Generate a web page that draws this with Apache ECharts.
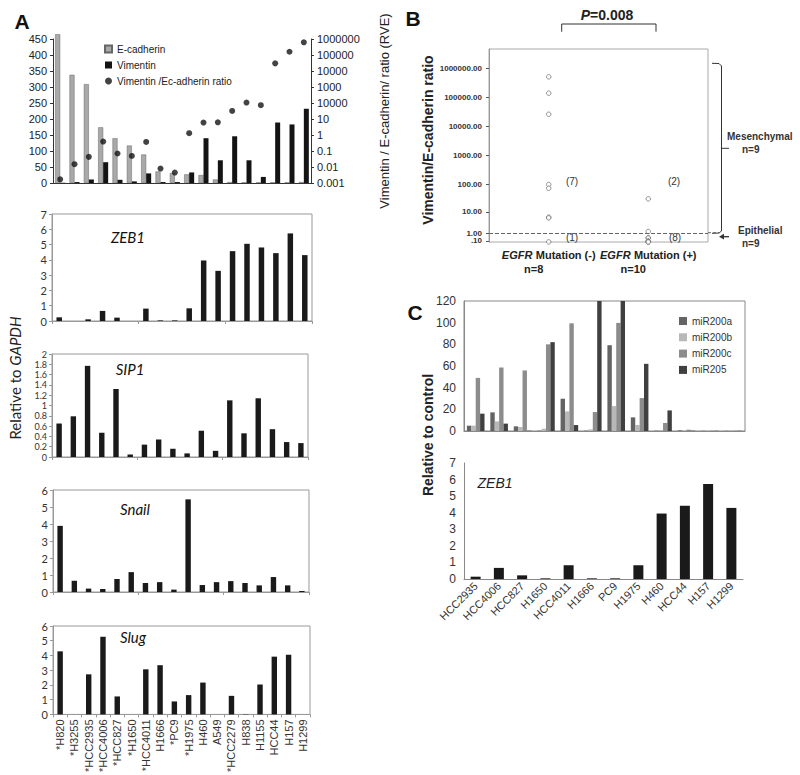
<!DOCTYPE html>
<html><head><meta charset="utf-8">
<script src="https://cdn.jsdelivr.net/npm/echarts@6/dist/echarts.min.js"></script>
<style>html,body{margin:0;padding:0;background:#fff}#c{width:800px;height:775px}</style>
</head><body><div id="c"></div>
<script>
// ---------- DATA ----------
const cellLinesA = ['*H820','*H3255','*HCC2935','*HCC4006','*HCC827','*H1650','*HCC4011','H1666','*PC9','*H1975','H460','A549','*HCC2279','H838','H1155','HCC44','H157','H1299'];
const ecadherin = [465,338,309,174,140,117,89,36,31,27,25,11,3,2,2,2,2,3];
const vimentin  = [1,3,11,65,10,5,30,3,3,33,140,71,146,71,19,189,183,232];
const ratioRVE  = [0.0017,0.015,0.043,0.39,0.07,0.049,0.37,0.008,0.0045,1.3,6,6.2,32,107,73,30000,160000,620000];
const rveTicks  = ['0.001','0.01','0.1','1','10','10000','1000','10000','100000','1000000'];
const zeb1A = [0.24,0,0.11,0.66,0.22,0,0.81,0.04,0.04,0.83,3.96,3.28,4.57,5.05,4.81,4.44,5.73,4.31];
const sip1A = [0.65,0.79,1.77,0.47,1.32,0.05,0.24,0.34,0.16,0.07,0.51,0.12,1.10,0.46,1.14,0.54,0.29,0.27];
const snailA = [3.89,0.66,0.20,0.18,0.76,1.17,0.53,0.58,0.14,5.45,0.41,0.58,0.64,0.53,0.39,0.88,0.39,0.06];
const slugA = [4.28,0,2.72,5.27,1.22,0,3.06,3.34,0.88,1.31,2.16,0,1.26,0.02,2.03,3.92,4.05,0];

const egfrNeg = [510000,139000,26000,96,71,6.2,5.8,0.008];
const egfrPos = [30,1.3,0.39,0.37,0.07,0.049,0.043,0.015,0.0045,0.0017];
const bTickValues = [0.1,1,10,100,1000,10000,100000,1000000];
const bTicks = ['.10','1.00','10.00','100.00','1000.00','10000.00','100000.00','1000000.00'];
const bGroups = ['Mutation (-)','Mutation (+)'];
const bGroupN = ['n=8','n=10'];

const cellLinesC = ['HCC2935','HCC4006','HCC827','H1650','HCC4011','H1666','PC9','H1975','H460','HCC44','H157','H1299'];
const miR200a = [4.9,17.2,4.3,0.3,29.8,0.3,79.2,12.6,0.3,0.6,0.2,0.2];
const miR200b = [4.9,8.9,3.7,2.1,18.1,1.5,23,5.5,0.9,0.4,0.2,0.2];
const miR200c = [49,58.6,55.9,80,99.4,17.5,99.8,30.4,7.4,1.2,0.3,0.3];
const miR205  = [16,6.8,0.3,82,5.5,150,150,62,19,0.3,0.2,0.2];
const zeb1C = [0.14,0.67,0.22,0.04,0.83,0.04,0.04,0.83,3.95,4.42,5.73,4.29];

// ---------- CHART ----------
const AR = '"Liberation Sans", Arial, sans-serif';
const LA = 'Lato, sans-serif';
const tf = v => Math.log10(v + 1);
const chart = echarts.init(document.getElementById('c'), null, {renderer:'svg', width:800, height:775});

const showAll = {showMinLabel:true, showMaxLabel:true, hideOverlap:false};
const lowerY = (g, max, interval, fs) => ({
  gridIndex:g, type:'value', min:0, max:max, interval:interval,
  axisLine:{show:true, lineStyle:{color:'#999'}}, axisTick:{show:true, length:3, lineStyle:{color:'#999'}},
  splitLine:{show:false}, axisLabel:Object.assign({fontSize:fs || 11, lineHeight:fs ? fs : 12, fontFamily:LA, color:'#333', margin:5}, showAll)
});
const lowerBar = (name, g, data) => ({
  name:name, type:'bar', xAxisIndex:g, yAxisIndex:g + 1, data:data, barWidth:'38%',
  itemStyle:{color:'#1a1a1a'}
});
const bLabelFmt = v => { const i = bTickValues.findIndex(b => Math.abs(tf(b) - v) < 1e-6); return i >= 0 ? bTicks[i] : ''; };
const bUpper = bTickValues.filter((_, i) => i > 0).map(tf);
const bLower = bTickValues.filter((_, i) => i === 0).map(tf);

function txt(x, y, text, o) {
  o = o || {};
  return {type:'text', x:x, y:y, rotation:o.rot || 0, silent:true,
    style:Object.assign({text:text, fill:o.color || '#222', font:o.font || ('12px ' + AR),
      align:o.align || 'center', verticalAlign:'middle'}, o.rich ? {rich:o.rich} : {})};
}
function line(points, o) {
  o = o || {};
  const st = {stroke:o.color || '#333', lineWidth:o.w || 1, fill:null};
  if (o.dash) st.lineDash = o.dash;
  return {type:'polyline', silent:true, shape:{points:points}, style:st};
}

const option = {
  animation:false,
  backgroundColor:'#fff',
  grid:[
    {left:53, top:39, width:258, height:144},
    {left:52, top:214, width:260, height:107, show:true, borderColor:'#999', borderWidth:1},
    {left:52, top:354, width:256, height:103, show:true, borderColor:'#999', borderWidth:1},
    {left:53, top:490, width:256, height:102, show:true, borderColor:'#999', borderWidth:1},
    {left:53, top:626, width:257, height:93, show:true, borderColor:'#999', borderWidth:1},
    {left:489, top:49, width:219, height:193, show:true, borderColor:'#aaa', borderWidth:1},
    {left:464, top:301, width:281, height:130, show:true, borderColor:'#888', borderWidth:1},
    {left:464, top:463, width:279, height:116}
  ],
  legend:[
    {orient:'vertical', left:104, top:43, padding:0, itemWidth:7, itemHeight:7, itemGap:4,
     textStyle:{fontSize:10, fontFamily:AR, color:'#222', lineHeight:12},
     data:[{name:'E-cadherin', icon:'rect'},{name:'Vimentin', icon:'rect'},{name:'Vimentin /Ec-adherin ratio', icon:'circle'}]},
    {orient:'vertical', left:679, top:315, padding:0, itemWidth:8, itemHeight:8, itemGap:4.3,
     textStyle:{fontSize:10, fontFamily:AR, color:'#333', lineHeight:12},
     data:[{name:'miR200a', icon:'rect'},{name:'miR200b', icon:'rect'},{name:'miR200c', icon:'rect'},{name:'miR205', icon:'rect'}]}
  ],
  xAxis:[
    {gridIndex:0, type:'category', data:cellLinesA, axisLabel:{show:false},
     axisTick:{length:3, lineStyle:{color:'#333'}}, axisLine:{lineStyle:{color:'#333'}}},
    ...[1,2,3,4].map(g => ({gridIndex:g, type:'category', data:cellLinesA,
      axisLine:{lineStyle:{color:'#999'}}, axisTick:{show:true, length:3, lineStyle:{color:'#999'}},
      axisLabel: g === 4 ? Object.assign({rotate:90, interval:0, fontSize:11, fontFamily:AR, color:'#333', margin:5}, showAll) : {show:false}})),
    {gridIndex:5, type:'value', min:0.4, max:2.6, axisLine:{show:false}, axisTick:{show:false}, splitLine:{show:false},
     axisLabel:Object.assign({customValues:[1,2], margin:6, lineHeight:13,
       formatter: v => { const i = Math.round(v) - 1; return '{i|EGFR} {b|' + bGroups[i] + '}\n{n|' + bGroupN[i] + '}'; },
       rich:{
         i:{fontStyle:'italic', fontWeight:'bold', fontSize:11, fontFamily:AR, color:'#222'},
         b:{fontWeight:'bold', fontSize:11, fontFamily:AR, color:'#222'},
         n:{fontWeight:'bold', fontSize:11, fontFamily:AR, color:'#222', padding:[2,30,0,0]}
       }}, showAll)},
    {gridIndex:6, type:'category', data:cellLinesC, axisLabel:{show:false}, axisTick:{show:false}, axisLine:{lineStyle:{color:'#888'}}},
    {gridIndex:7, type:'category', data:cellLinesC, axisLine:{lineStyle:{color:'#888'}},
     axisTick:{length:4, lineStyle:{color:'#888'}},
     axisLabel:Object.assign({rotate:45, interval:0, fontSize:11, fontFamily:AR, color:'#333', margin:5}, showAll)}
  ],
  yAxis:[
    {gridIndex:0, type:'value', min:0, max:450, interval:50, splitLine:{show:false},
     axisLine:{show:true, lineStyle:{color:'#333'}}, axisTick:{show:true, length:3},
     axisLabel:Object.assign({fontSize:11, lineHeight:12, fontFamily:AR, color:'#222', margin:6}, showAll)},
    {gridIndex:0, type:'log', logBase:10, min:0.001, max:1000000, splitNumber:9, position:'right', splitLine:{show:false},
     minorTick:{show:false}, axisLine:{show:true, lineStyle:{color:'#333'}}, axisTick:{show:true, length:3},
     axisLabel:Object.assign({fontSize:11, lineHeight:12, fontFamily:AR, color:'#222', margin:6,
       formatter: v => rveTicks[Math.round(Math.log10(v)) + 3]}, showAll)},
    lowerY(1, 7, 1),
    lowerY(2, 2, 0.2, 9),
    lowerY(3, 6, 1),
    lowerY(4, 6, 1),
    {gridIndex:5, type:'value', min:0, max:6.67, position:'left', offset:0, splitLine:{show:false},
     axisLine:{show:true, lineStyle:{color:'#999'}},
     axisTick:{show:true, length:3, customValues:bUpper, lineStyle:{color:'#555'}},
     axisLabel:Object.assign({customValues:bUpper, fontSize:8, lineHeight:8, fontWeight:'bold', fontFamily:AR, color:'#333', margin:7,
       formatter:bLabelFmt}, showAll)},
    {gridIndex:6, type:'value', min:0, max:120, interval:20, splitLine:{show:false},
     axisLine:{show:true, lineStyle:{color:'#888'}}, axisTick:{show:false},
     axisLabel:Object.assign({fontSize:12, fontFamily:AR, color:'#333', margin:8}, showAll)},
    {gridIndex:7, type:'value', min:0, max:7, interval:1, splitLine:{show:false},
     axisLine:{show:true, lineStyle:{color:'#888'}}, axisTick:{show:false},
     axisLabel:Object.assign({fontSize:12, fontFamily:AR, color:'#333', margin:8}, showAll)},
    {gridIndex:5, type:'value', min:0, max:6.67, position:'left', offset:0, splitLine:{show:false},
     axisLine:{show:false},
     axisTick:{show:true, length:3, customValues:bLower, lineStyle:{color:'#555'}},
     axisLabel:Object.assign({customValues:bLower, fontSize:8, lineHeight:8, fontWeight:'bold', fontFamily:AR, color:'#333', margin:7,
       formatter:bLabelFmt}, showAll)}
  ],
  series:[
    {name:'E-cadherin', type:'bar', xAxisIndex:0, yAxisIndex:0, data:ecadherin, barWidth:5, barGap:'0%', clip:false,
     itemStyle:{color:'#a9a9a9', borderColor:'#666', borderWidth:0.5}},
    {name:'Vimentin', type:'bar', xAxisIndex:0, yAxisIndex:0, data:vimentin, barWidth:5, barGap:'0%',
     itemStyle:{color:'#141414'}},
    {name:'Vimentin /Ec-adherin ratio', type:'scatter', xAxisIndex:0, yAxisIndex:1, data:ratioRVE, symbol:'circle', symbolSize:6,
     itemStyle:{color:'#141414'}},
    lowerBar('ZEB1 A', 1, zeb1A),
    lowerBar('SIP1 A', 2, sip1A),
    lowerBar('Snail A', 3, snailA),
    lowerBar('Slug A', 4, slugA),
    {name:'EGFR Mutation (-)', type:'scatter', xAxisIndex:5, yAxisIndex:6, data:egfrNeg.map(v => [1, tf(v)]), clip:false,
     symbol:'circle', symbolSize:4.5, itemStyle:{color:'#fff', borderColor:'#777', borderWidth:1},
     markLine:{silent:true, symbol:'none', label:{show:false}, data:[{yAxis:tf(1)}],
       lineStyle:{type:'dashed', color:'#666', width:1}}},
    {name:'EGFR Mutation (+)', type:'scatter', xAxisIndex:5, yAxisIndex:6, data:egfrPos.map(v => [2, tf(v)]), clip:false,
     symbol:'circle', symbolSize:4.5, itemStyle:{color:'#fff', borderColor:'#777', borderWidth:1}},
    {name:'miR200a', type:'bar', xAxisIndex:6, yAxisIndex:7, data:miR200a, barWidth:4.4, barGap:'0%', itemStyle:{color:'#646464'}},
    {name:'miR200b', type:'bar', xAxisIndex:6, yAxisIndex:7, data:miR200b, barWidth:4.4, barGap:'0%', itemStyle:{color:'#b8b8b8'}},
    {name:'miR200c', type:'bar', xAxisIndex:6, yAxisIndex:7, data:miR200c, barWidth:4.4, barGap:'0%', itemStyle:{color:'#8c8c8c'}},
    {name:'miR205', type:'bar', xAxisIndex:6, yAxisIndex:7, data:miR205, barWidth:4.4, barGap:'0%', itemStyle:{color:'#404040'}},
    {name:'ZEB1 C', type:'bar', xAxisIndex:7, yAxisIndex:8, data:zeb1C, barWidth:'43%', itemStyle:{color:'#1a1a1a'}}
  ],
  graphic:[
    txt(22, 21, 'A', {font:'bold 21px ' + AR, color:'#111'}),
    txt(413, 18, 'B', {font:'bold 21px ' + AR, color:'#111'}),
    txt(415, 312, 'C', {font:'bold 21px ' + AR, color:'#111'}),
    txt(384, 111, 'Vimentin / E-cadherin/ ratio (RVE)', {rot:Math.PI/2, font:'13px ' + AR, color:'#222'}),
    txt(128, 237, 'ZEB1', {font:'italic 15px ' + LA, color:'#111'}),
    txt(130, 369, 'SIP1', {font:'italic 15px ' + LA, color:'#111'}),
    txt(135, 509, 'Snail', {font:'italic 15px ' + LA, color:'#111'}),
    txt(133, 637, 'Slug', {font:'italic 15px ' + LA, color:'#111'}),
    txt(15, 378, '{a|Relative to }{b|GAPDH}', {rot:Math.PI/2,
      rich:{a:{fontSize:15, fontFamily:LA, color:'#222'}, b:{fontSize:15, fontFamily:LA, fontStyle:'italic', color:'#222'}}}),
    txt(607, 15, '{p|P}{b|=0.008}', {rich:{p:{fontSize:14, fontWeight:'bold', fontStyle:'italic', fontFamily:AR, color:'#222'},
      b:{fontSize:14, fontWeight:'bold', fontFamily:AR, color:'#222'}}}),
    line([[561.7,31.7],[561.7,24],[656,24],[656,31.7]]),
    txt(428, 140, 'Vimentin/E-cadherin ratio', {rot:Math.PI/2, font:'bold 14px ' + AR, color:'#222'}),
    txt(572, 181, '(7)', {font:'10px ' + AR, color:'#333'}),
    txt(674, 181, '(2)', {font:'10px ' + AR, color:'#333'}),
    txt(572, 237, '(1)', {font:'10px ' + AR, color:'#333'}),
    txt(675, 237, '(8)', {font:'10px ' + AR, color:'#333'}),
    line([[712,63.3],[719,63.5],[721.5,66],[721.5,231],[719,233],[712,233.3]]),
    line([[721.5,148.3],[729,148.3]]),
    line([[708,232.7],[720,232.7]], {dash:[3,2], color:'#666'}),
    line([[729,236.7],[722,236.7]], {w:1.3}),
    {type:'polygon', silent:true, shape:{points:[[719,236.7],[724,233.8],[724,239.6]]}, style:{fill:'#333'}},
    txt(727, 136, 'Mesenchymal', {align:'left', font:'bold 10px ' + AR, color:'#333'}),
    txt(742, 149, 'n=9', {align:'left', font:'bold 10px ' + AR, color:'#333'}),
    txt(738, 230, 'Epithelial', {align:'left', font:'bold 10px ' + AR, color:'#333'}),
    txt(742, 243, 'n=9', {align:'left', font:'bold 10px ' + AR, color:'#333'}),
    txt(428, 435, 'Relative to control', {rot:Math.PI/2, font:'bold 14px ' + AR, color:'#222'}),
    txt(495, 483, 'ZEB1', {font:'italic 14px ' + AR, color:'#222'})
  ]
};
chart.setOption(option);
</script></body></html>
